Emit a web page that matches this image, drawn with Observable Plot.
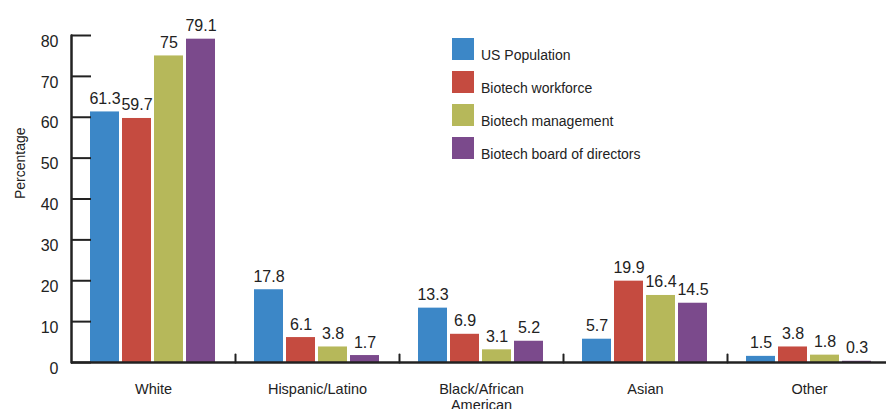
<!DOCTYPE html>
<html>
<head>
<meta charset="utf-8">
<script src="https://cdn.jsdelivr.net/npm/d3@7"></script>
<script src="https://cdn.jsdelivr.net/npm/@observablehq/plot@0.6"></script>
<style>
  html, body { margin: 0; padding: 0; background: #fff; overflow: hidden; }
  #wrap { position: relative; width: 886px; height: 409px; font-family: "Liberation Sans", Arial, sans-serif; color: #222; }
  #legend { position: absolute; left: 452px; top: 38px; }
  .row { display: flex; height: 22px; margin-bottom: 11px; }
  .sw { width: 22px; height: 22px; }
  .lab { font-size: 14px; line-height: 22px; margin-left: 7px; position: relative; top: 6px; white-space: nowrap; }
</style>
</head>
<body>
<div id="wrap"></div>
<script>
const categories = ["White", "Hispanic/Latino", "Black/African American", "Asian", "Other"];
const series = ["US Population", "Biotech workforce", "Biotech management", "Biotech board of directors"];
const usPopulation = [61.3, 17.8, 13.3, 5.7, 1.5];
const biotechWorkforce = [59.7, 6.1, 6.9, 19.9, 3.8];
const biotechManagement = [75, 3.8, 3.1, 16.4, 1.8];
const biotechBoard = [79.1, 1.7, 5.2, 14.5, 0.3];
const colors = ["#3c87c7", "#c54b40", "#b6b85a", "#7b4a8c"];
const yTicks = [0, 10, 20, 30, 40, 50, 60, 70, 80];

const seriesValues = [usPopulation, biotechWorkforce, biotechManagement, biotechBoard];
const data = [];
categories.forEach((c, i) => {
  series.forEach((s, j) => data.push({category: c, series: s, value: seriesValues[j][i]}));
});

const W = 886, H = 409, mT = 35, mB = 47, mL = 71, mR = -5;
const innerH = H - mT - mB;
const lineShape = {draw(ctx, l) { ctx.moveTo(0, 0); ctx.lineTo(0, -l); }};
const ink = "#222";

const chart = Plot.plot({
  width: W, height: H,
  marginTop: mT, marginBottom: mB, marginLeft: mL, marginRight: mR,
  style: {fontFamily: "'Liberation Sans', Arial, sans-serif", fontSize: "15px", color: ink, background: "#fff"},
  fx: {domain: categories, padding: 0, axis: null},
  x: {domain: series, paddingInner: 0.082, paddingOuter: 0.551, axis: null},
  y: {domain: [0, 80], axis: null},
  color: {domain: series, range: colors},
  marks: [
    Plot.barY(data, {fx: "category", x: "series", y: "value", fill: "series"}),
    Plot.ruleY([0], {stroke: ink, strokeWidth: 2.5}),
    Plot.text(data, {fx: "category", x: "series", y: "value", text: d => String(d.value), lineAnchor: "bottom", dy: -8, fontSize: 16, fill: ink}),
    Plot.vector([0], {frameAnchor: "bottom-right", rotate: 0, length: 8, anchor: "start", shape: lineShape, stroke: ink, strokeWidth: 2}),
    Plot.vector([categories[0]], {fx: d => d, frameAnchor: "bottom-left", rotate: 0, length: innerH, anchor: "start", shape: lineShape, stroke: ink, strokeWidth: 2.5}),
    Plot.axisY({ticks: yTicks, tickSize: -20, tickFormat: () => "", strokeWidth: 2, stroke: ink, label: null}),
    Plot.axisY({ticks: yTicks, tickSize: 0, tickPadding: 13, dy: 6, fill: ink, fontSize: 16, label: null}),
    Plot.text(["Percentage"], {fx: () => categories[0], frameAnchor: "left", rotate: -90, dx: -51, fontSize: 14, fill: ink}),
    Plot.axisFx({anchor: "bottom", tickSize: 0, tickPadding: 20, fontSize: 14.5, lineWidth: 8, lineHeight: 1.1, label: null, fill: ink})
  ]
});

const wrap = document.getElementById("wrap");
wrap.appendChild(chart);
const legend = document.createElement("div");
legend.id = "legend";
series.forEach((s, j) => {
  const row = document.createElement("div");
  row.className = "row";
  const sw = document.createElement("div");
  sw.className = "sw";
  sw.style.background = colors[j];
  const lab = document.createElement("div");
  lab.className = "lab";
  lab.textContent = s;
  row.appendChild(sw); row.appendChild(lab);
  legend.appendChild(row);
});
wrap.appendChild(legend);
</script>
</body>
</html>
